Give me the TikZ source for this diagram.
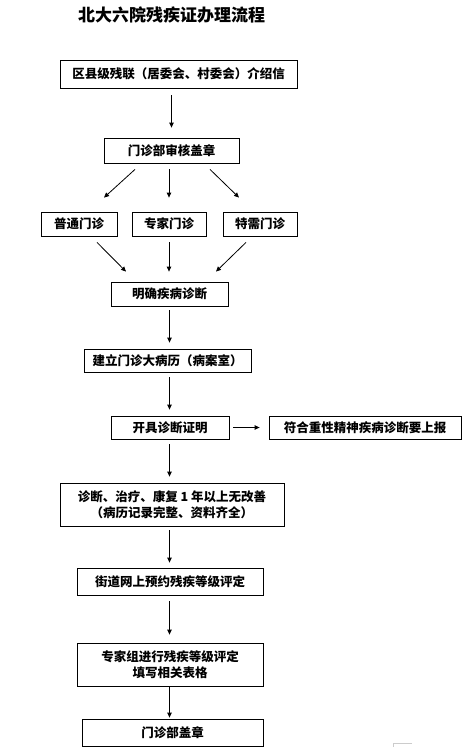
\documentclass[tikz,border=0pt]{standalone}
\usepackage{fontspec}
\newfontfamily\cjk{Noto Sans CJK SC}
\usepackage{tikz}
\usetikzlibrary{arrows.meta, positioning, calc}

\begin{document}
\begin{tikzpicture}[x=1pt, y=-1pt,
  box/.style={draw, line width=0.8pt, inner sep=0pt, align=center,
              font=\cjk\bfseries\fontsize{12.5}{16.5}\selectfont},
  arr/.style={-{Triangle[length=5pt, width=4.5pt]}, line width=0.8pt,
              shorten <=5pt, shorten >=7pt}
]
  \useasboundingbox (0,0) rectangle (468,747);

  \node[font=\cjk\bfseries\fontsize{17}{20}\selectfont] (TITLE) at (171.5,15) {北大六院残疾证办理流程};

  \node[box, minimum width=237pt, minimum height=28pt] (INTRO) at (178.5,74)  {区县级残联（居委会、村委会）介绍信};
  \node[box, minimum width=135pt, minimum height=25pt] (REV)   at (171.5,150.5) {门诊部审核盖章};
  \node[box, minimum width=76pt,  minimum height=24pt] (GEN)   at (79,224)    {普通门诊};
  \node[box, minimum width=74pt,  minimum height=24pt] (EXP)   at (169,224)   {专家门诊};
  \node[box, minimum width=74pt,  minimum height=24pt] (SPE)   at (260,224)   {特需门诊};
  \node[box, minimum width=117pt, minimum height=24pt] (DIAG)  at (169.5,294) {明确疾病诊断};
  \node[box, minimum width=167pt, minimum height=23pt] (REC)   at (167.5,360.5) {建立门诊大病历（病案室）};
  \node[box, minimum width=118pt, minimum height=23pt] (CERT)  at (170,427.5) {开具诊断证明};
  \node[box, minimum width=192pt, minimum height=23pt] (REP)   at (365,427.5) {符合重性精神疾病诊断要上报};
  \node[box, minimum width=224pt, minimum height=43pt] (ONEY)  at (172,504.5) {诊断、治疗、康复 1 年以上无改善\\（病历记录完整、资料齐全）};
  \node[box, minimum width=186pt, minimum height=27pt] (BOOK)  at (170,581.5) {街道网上预约残疾等级评定};
  \node[box, minimum width=186pt, minimum height=43pt] (EVAL)  at (170,664.5) {专家组进行残疾等级评定\\填写相关表格};
  \node[box, minimum width=181pt, minimum height=27pt] (SEAL)  at (172.5,732.5) {门诊部盖章};

  \draw[arr, shorten <=7pt, shorten >=10pt] (INTRO.south -| REV.north) -- (REV.north);
  \draw[arr, shorten <=6pt, shorten >=14pt] (REV.south -| EXP.north) -- (EXP.north);
  \draw[arr, shorten <=0pt, shorten >=0pt] ($(REV.south)+(-36.5,6)$) -- ($(GEN.north)+(25,-14)$);
  \draw[arr, shorten <=0pt, shorten >=0pt] ($(REV.south)+(38.5,6)$) -- ($(SPE.north)+(-21,-14)$);
  \draw[arr, shorten <=6pt, shorten >=10pt] (EXP.south) -- (EXP.south |- DIAG.north);
  \draw[arr, shorten <=0pt, shorten >=0pt] ($(GEN.south)+(18,6)$) -- ($(DIAG.north)+(-43.5,-10)$);
  \draw[arr, shorten <=0pt, shorten >=0pt] ($(SPE.south)+(-14,6)$) -- ($(DIAG.north)+(46.5,-10)$);
  \draw[arr, shorten <=4pt, shorten >=6pt] (DIAG.south) -- (DIAG.south |- REC.north);
  \draw[arr, shorten >=6pt] (REC.south -| DIAG.south) -- (DIAG.south |- CERT.north);
  \draw[arr, shorten >=6pt] (CERT.south -| DIAG.south) -- (DIAG.south |- ONEY.north);
  \draw[arr, shorten <=4pt, shorten >=5pt] (ONEY.south -| DIAG.south) -- (DIAG.south |- BOOK.north);
  \draw[arr, shorten <=6pt, shorten >=8pt] (BOOK.south -| DIAG.south) -- (DIAG.south |- EVAL.north);
  \draw[arr, shorten <=1pt, shorten >=1pt] (EVAL.south -| DIAG.south) -- (DIAG.south |- SEAL.north);
  \draw[arr, shorten <=4pt, shorten >=9pt] (CERT.east) -- (REP.west);

  \draw[gray!40, line width=0.6pt] (412,743) -- (393,743) -- (393,747);
\end{tikzpicture}
\end{document}
